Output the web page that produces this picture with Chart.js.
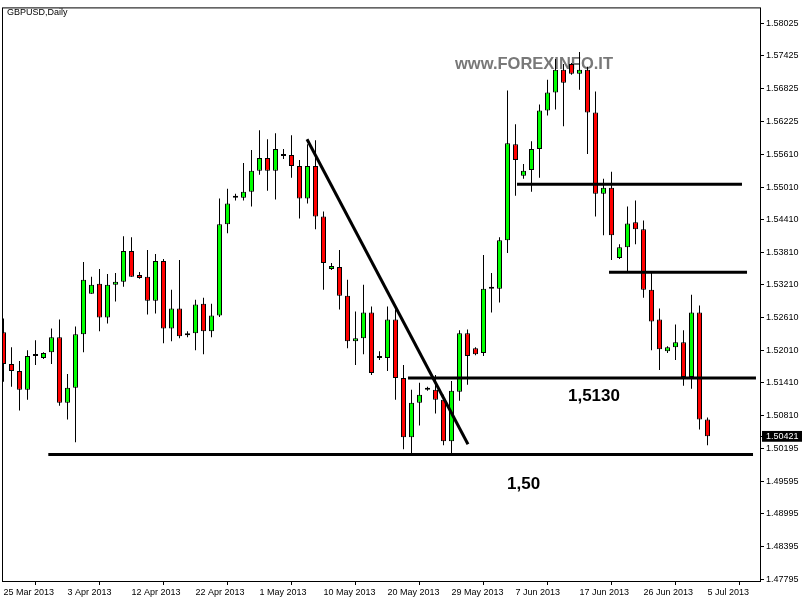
<!DOCTYPE html>
<html>
<head>
<meta charset="UTF-8">
<title>GBPUSD,Daily</title>
<style>
  html, body { margin: 0; padding: 0; background: #fff; overflow: hidden; }
  canvas { display: block; }
</style>
<script src="https://cdn.jsdelivr.net/npm/chart.js"></script>
</head>
<body>
<canvas id="chart" width="802" height="600"></canvas>
<script>
  // daily bars (MT4 feed, with sunday bars)
  const dates = [
    "25 Mar 2013", "26 Mar 2013", "27 Mar 2013", "28 Mar 2013", "29 Mar 2013", "31 Mar 2013", "1 Apr 2013", "2 Apr 2013",
    "3 Apr 2013", "4 Apr 2013", "5 Apr 2013", "7 Apr 2013", "8 Apr 2013", "9 Apr 2013", "10 Apr 2013", "11 Apr 2013",
    "12 Apr 2013", "14 Apr 2013", "15 Apr 2013", "16 Apr 2013", "17 Apr 2013", "18 Apr 2013", "19 Apr 2013", "21 Apr 2013",
    "22 Apr 2013", "23 Apr 2013", "24 Apr 2013", "25 Apr 2013", "26 Apr 2013", "28 Apr 2013", "29 Apr 2013", "30 Apr 2013",
    "1 May 2013", "2 May 2013", "3 May 2013", "5 May 2013", "6 May 2013", "7 May 2013", "8 May 2013", "9 May 2013",
    "10 May 2013", "12 May 2013", "13 May 2013", "14 May 2013", "15 May 2013", "16 May 2013", "17 May 2013", "19 May 2013",
    "20 May 2013", "21 May 2013", "22 May 2013", "23 May 2013", "24 May 2013", "26 May 2013", "27 May 2013", "28 May 2013",
    "29 May 2013", "30 May 2013", "31 May 2013", "2 Jun 2013", "3 Jun 2013", "4 Jun 2013", "5 Jun 2013", "6 Jun 2013",
    "7 Jun 2013", "9 Jun 2013", "10 Jun 2013", "11 Jun 2013", "12 Jun 2013", "13 Jun 2013", "14 Jun 2013", "16 Jun 2013",
    "17 Jun 2013", "18 Jun 2013", "19 Jun 2013", "20 Jun 2013", "21 Jun 2013", "23 Jun 2013", "24 Jun 2013", "25 Jun 2013",
    "26 Jun 2013", "27 Jun 2013", "28 Jun 2013", "30 Jun 2013", "1 Jul 2013", "2 Jul 2013", "3 Jul 2013", "4 Jul 2013",
    "5 Jul 2013"
  ];

  const open = [
    1.52335, 1.51752, 1.51624, 1.51278, 1.51898, 1.51861, 1.51971, 1.52244, 1.51041, 1.51314,
    1.52299, 1.53047, 1.53229, 1.52609, 1.53211, 1.53265, 1.53831, 1.53393, 1.53357, 1.52919,
    1.53648, 1.52408, 1.52773, 1.52281, 1.52317, 1.52864, 1.52354, 1.52645, 1.54323, 1.54815,
    1.54815, 1.54925, 1.55308, 1.55545, 1.55308, 1.55581, 1.55600, 1.55399, 1.54797, 1.55399,
    1.54469, 1.53503, 1.53539, 1.53010, 1.52171, 1.52226, 1.52700, 1.51861, 1.51861, 1.52573,
    1.51497, 1.50403, 1.51041, 1.51314, 1.51278, 1.51096, 1.50330, 1.51241, 1.52317, 1.52044,
    1.51953, 1.53138, 1.53138, 1.54031, 1.55800, 1.55217, 1.55326, 1.55709, 1.56420, 1.56748,
    1.57168, 1.57277, 1.57095, 1.57168, 1.56384, 1.54888, 1.54998, 1.53703, 1.53904, 1.54360,
    1.54232, 1.53120, 1.52573, 1.51989, 1.52062, 1.52153, 1.51515, 1.52700, 1.50731
  ];
  const high = [
    1.52591, 1.52062, 1.51807, 1.52007, 1.52190, 1.51971, 1.52408, 1.52573, 1.51570, 1.52445,
    1.53630, 1.53357, 1.53503, 1.53411, 1.53430, 1.54104, 1.54086, 1.53448, 1.53849, 1.53776,
    1.53685, 1.53120, 1.53667, 1.52354, 1.52937, 1.52974, 1.52864, 1.54797, 1.54980, 1.54888,
    1.55454, 1.55691, 1.56055, 1.55891, 1.56001, 1.55709, 1.55964, 1.55508, 1.55800, 1.55873,
    1.54560, 1.53612, 1.53849, 1.53302, 1.52718, 1.53211, 1.52810, 1.51989, 1.52810, 1.52755,
    1.51734, 1.51278, 1.51406, 1.51333, 1.51551, 1.51187, 1.51442, 1.52372, 1.52390, 1.52062,
    1.53758, 1.53430, 1.54086, 1.56785, 1.56165, 1.55435, 1.55855, 1.56530, 1.56985, 1.57368,
    1.57277, 1.57295, 1.57496, 1.57222, 1.56767, 1.55162, 1.55290, 1.53958, 1.54651, 1.54761,
    1.54396, 1.53430, 1.52773, 1.52080, 1.52481, 1.52372, 1.53028, 1.52828, 1.50767
  ];
  const low = [
    1.51424, 1.51333, 1.50895, 1.51096, 1.51734, 1.51843, 1.51752, 1.50986, 1.50731, 1.50311,
    1.51971, 1.53047, 1.52354, 1.52500, 1.52901, 1.53174, 1.53357, 1.53320, 1.52664, 1.52682,
    1.52135, 1.52171, 1.52226, 1.52244, 1.52007, 1.51934, 1.52244, 1.52620, 1.54159, 1.54761,
    1.54761, 1.54651, 1.55235, 1.54943, 1.54779, 1.55527, 1.55180, 1.54433, 1.54706, 1.54232,
    1.53120, 1.53484, 1.52755, 1.52044, 1.51734, 1.51934, 1.51551, 1.51825, 1.51624, 1.51096,
    1.50184, 1.50111, 1.50621, 1.51260, 1.50840, 1.50257, 1.50111, 1.51077, 1.51369, 1.51916,
    1.51898, 1.52700, 1.52883, 1.53794, 1.54852, 1.55162, 1.54925, 1.55180, 1.56329, 1.56438,
    1.56128, 1.57077, 1.56803, 1.55618, 1.54469, 1.54123, 1.53667, 1.53685, 1.53466, 1.53958,
    1.52974, 1.52007, 1.51643, 1.51953, 1.51825, 1.51351, 1.51296, 1.50548, 1.50257
  ];
  const close = [
    1.51752, 1.51624, 1.51278, 1.51898, 1.51898, 1.51953, 1.52244, 1.51041, 1.51314, 1.52299,
    1.53302, 1.53211, 1.52609, 1.53211, 1.53265, 1.53831, 1.53357, 1.53338, 1.52919, 1.53648,
    1.52408, 1.52773, 1.52262, 1.52317, 1.52846, 1.52354, 1.52645, 1.54323, 1.54706, 1.54815,
    1.54925, 1.55308, 1.55545, 1.55308, 1.55709, 1.55581, 1.55399, 1.54797, 1.55399, 1.54469,
    1.53612, 1.53557, 1.53010, 1.52171, 1.52226, 1.52700, 1.51588, 1.51861, 1.52573, 1.51497,
    1.50403, 1.51041, 1.51187, 1.51278, 1.51096, 1.50330, 1.51260, 1.52317, 1.51898, 1.51934,
    1.53138, 1.53138, 1.54031, 1.55818, 1.55508, 1.55308, 1.55709, 1.56420, 1.56748, 1.57168,
    1.56931, 1.57095, 1.57168, 1.56384, 1.54888, 1.54998, 1.54123, 1.53904, 1.54341, 1.54232,
    1.53120, 1.52536, 1.52026, 1.52062, 1.52153, 1.51515, 1.52700, 1.50731, 1.50421
  ];

  const yTicks = [
    1.47795, 1.48395, 1.48995, 1.49595, 1.50195, 1.50810, 1.51410, 1.52010, 1.52610,
    1.53210, 1.53810, 1.54410, 1.55010, 1.55610, 1.56225, 1.56825, 1.57425, 1.58025
  ];
  const xTickEvery = 8;
  const lastClose = close[close.length - 1];

  // drawn objects, in [bar index, price]
  const trendLine = [[37.94, 1.55891], [58.06, 1.50275]];
  const levelLines = [
    [[5.60, 1.50088], [93.69, 1.50088]],
    [[50.56, 1.51493], [94.06, 1.51493]],
    [[64.19, 1.55062], [92.31, 1.55062]],
    [[75.69, 1.53442], [92.94, 1.53442]]
  ];
  const notes = [
    { text: "1,5130", x: 70.56, y: 1.51077 },
    { text: "1,50", x: 62.94, y: 1.49454 }
  ];

  const idx = dates.map((d, i) => i);
  const wicks = idx.map(i => ({ x: i, y: [low[i], high[i]] }));
  const bodies = idx.map(i => ({ x: i, y: [open[i], close[i]] }));

  const lineSet = (pts, w) => ({
    type: "line",
    data: pts.map(p => ({ x: p[0], y: p[1] })),
    borderColor: "#000",
    borderWidth: w,
    pointRadius: 0,
    fill: false,
    tension: 0,
    order: 0
  });

  const decor = {
    id: "decor",
    beforeDatasetsDraw(chart) {
      const ctx = chart.ctx;
      ctx.save();
      ctx.font = "bold 16.5px 'Liberation Sans'";
      ctx.fillStyle = "#787878";
      ctx.textBaseline = "alphabetic";
      ctx.fillText("www.FOREXINFO.IT", 455, 69);
      ctx.restore();
    },
    afterDraw(chart) {
      const { ctx, chartArea: a, scales } = chart;
      ctx.save();
      ctx.strokeStyle = "#000";
      ctx.lineWidth = 1;
      ctx.strokeRect(a.left + 0.5, a.top + 0.5, a.right - a.left, a.bottom - a.top);

      ctx.fillStyle = "#000";
      ctx.textBaseline = "alphabetic";
      ctx.font = "9px 'Liberation Sans'";
      ctx.fillText("GBPUSD,Daily", 7, 15);

      ctx.font = "bold 17px 'Liberation Sans'";
      notes.forEach(n => {
        ctx.fillText(n.text, scales.x.getPixelForValue(n.x), scales.y.getPixelForValue(n.y));
      });
      ctx.restore();
    }
  };

  const isLast = c => c.tick && c.tick.value === lastClose;

  new Chart(document.getElementById("chart"), {
    type: "bar",
    data: {
      datasets: [
        {
          data: wicks,
          backgroundColor: "#000",
          borderWidth: 0,
          barThickness: 1,
          grouped: false,
          inflateAmount: 0,
          order: 2
        },
        {
          data: bodies,
          backgroundColor: c => close[c.dataIndex] >= open[c.dataIndex] ? "#00ff00" : "#ff0000",
          borderColor: "#000",
          borderWidth: 1,
          borderSkipped: false,
          barThickness: 5,
          minBarLength: 2,
          grouped: false,
          inflateAmount: 0,
          order: 1
        },
        lineSet(trendLine, 3),
        ...levelLines.map(l => lineSet(l, 3))
      ]
    },
    options: {
      responsive: false,
      animation: false,
      events: [],
      layout: { padding: { left: 2, top: 2, right: 0, bottom: 0 }, autoPadding: false },
      plugins: { legend: { display: false }, tooltip: { enabled: false } },
      scales: {
        x: {
          type: "linear",
          min: -0.1875,
          max: 94.5625,
          offset: false,
          afterBuildTicks: s => { s.ticks = idx.filter(i => i % xTickEvery === 0).map(v => ({ value: v })); },
          afterFit: s => { s.height = 19; },
          grid: { drawOnChartArea: false, tickLength: 4, tickColor: "#000" },
          border: { display: false },
          ticks: {
            autoSkip: false,
            maxRotation: 0,
            align: "start",
            padding: 2,
            color: "#000",
            font: { family: "'Liberation Sans'", size: 9 },
            callback: v => dates[v]
          }
        },
        y: {
          position: "right",
          min: 1.477585,
          max: 1.583167,
          afterBuildTicks: s => {
            s.ticks = yTicks.concat([lastClose]).sort((a, b) => a - b).map(v => ({ value: v }));
          },
          afterFit: s => { s.width = 42; },
          grid: { drawOnChartArea: false, tickLength: 4, tickColor: "#000" },
          border: { display: false },
          ticks: {
            autoSkip: false,
            padding: 2,
            color: c => isLast(c) ? "#fff" : "#000",
            showLabelBackdrop: c => isLast(c),
            backdropColor: "#000",
            backdropPadding: { top: 0, bottom: 0, left: 4, right: 6 },
            font: { family: "'Liberation Sans'", size: 9 },
            callback: v => v.toFixed(5)
          }
        }
      }
    },
    plugins: [decor]
  });
</script>
</body>
</html>
